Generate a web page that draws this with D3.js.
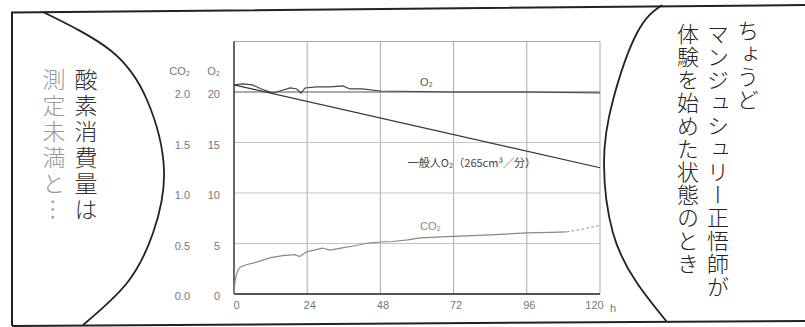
<!DOCTYPE html>
<html>
<head>
<meta charset="utf-8">
<script src="https://cdn.jsdelivr.net/npm/d3@7"></script>
<style>
  body { margin: 0; background: #fff; }
  text { font-family: "Liberation Sans", Arial, sans-serif; }
  .jp { font-family: "Noto Sans CJK JP", sans-serif; writing-mode: vertical-rl; font-weight: 300; }
</style>
</head>
<body>
<script>
// tick labels
var hourTicks = [0, 24, 48, 72, 96, 120];
var o2Ticks = [0, 5, 10, 15, 20];
var co2Ticks = [0, 0.5, 1.0, 1.5, 2.0];

var o2Hours  = [0, 3, 6, 9, 12.8, 15, 18.4, 20.6, 22, 23.3, 27, 31.5, 35.7, 38, 42, 48, 60, 72, 84, 96, 108, 120];
var o2Values = [20.7, 20.8, 20.7, 20.3, 19.9, 20.1, 20.4, 20.3, 19.9, 20.4, 20.5, 20.5, 20.6, 20.3, 20.3, 20.1, 20.05, 20.0, 20.0, 20.0, 19.95, 19.9];

// measured CO2 (%)
var co2Hours  = [0, 0.3, 0.7, 1.2, 2, 4, 8, 12, 16, 20, 21.5, 24, 27, 29, 31.5, 36, 40, 44, 48, 52, 57, 61, 68, 76, 84, 96, 104, 109, 114, 120];
var co2Values = [0.0, 0.12, 0.18, 0.23, 0.265, 0.29, 0.32, 0.36, 0.38, 0.39, 0.37, 0.42, 0.44, 0.455, 0.435, 0.46, 0.48, 0.505, 0.515, 0.52, 0.535, 0.555, 0.565, 0.575, 0.585, 0.605, 0.61, 0.615, 0.64, 0.68];

// ordinary person O2 (265cm3/min)
var refHours  = [0, 120];
var refValues = [20.7, 12.5];

var leftText  = ["酸素消費量は", "測定未満と…"];
var rightText = ["ちょうど", "マンジュシュリー正悟師が", "体験を始めた状態のとき"];

var W = 805, H = 327;
var svg = d3.select("body").append("svg").attr("width", W).attr("height", H);

// panel frame
svg.append("path")
  .attr("d", d3.line()([[12, 326], [12, 12.5], [805, 5]]))
  .attr("fill", "none").attr("stroke", "#222").attr("stroke-width", 2);
svg.append("path")
  .attr("d", d3.line()([[12, 326], [805, 321]]))
  .attr("fill", "none").attr("stroke", "#222").attr("stroke-width", 2);

var x = d3.scaleLinear().domain([0, 120]).range([234, 600]);
var yO2 = d3.scaleLinear().domain([0, 25]).range([294, 41.5]);
var yCO2 = d3.scaleLinear().domain([0, 2.5]).range([294, 41.5]);

var g = svg.append("g");

// grid
g.selectAll(".vg").data(hourTicks.slice(1, -1)).enter().append("line")
  .attr("x1", d => x(d)).attr("x2", d => x(d))
  .attr("y1", yO2(25)).attr("y2", yO2(0))
  .attr("stroke", "#aaa").attr("stroke-width", 1);
g.selectAll(".hg").data(o2Ticks.slice(1)).enter().append("line")
  .attr("x1", x(0)).attr("x2", x(120))
  .attr("y1", d => yO2(d)).attr("y2", d => yO2(d))
  .attr("stroke", d => d === 20 ? "#555" : "#c4c4c4").attr("stroke-width", 1);

// plot border
g.append("path")
  .attr("d", d3.line()([[x(0), yO2(25)], [x(120), yO2(25)], [x(120), yO2(0)]]))
  .attr("fill", "none").attr("stroke", "#aaa");
g.append("line").attr("x1", x(0)).attr("x2", x(0)).attr("y1", yO2(25)).attr("y2", yO2(0))
  .attr("stroke", "#333").attr("stroke-width", 1.5);
g.append("line").attr("x1", x(0)).attr("x2", x(120)).attr("y1", yO2(0)).attr("y2", yO2(0))
  .attr("stroke", "#555").attr("stroke-width", 2);

// axes (labels only)
var axO2 = g.append("g").attr("transform", "translate(220,2)")
  .call(d3.axisLeft(yO2).tickValues(o2Ticks).tickSize(0).tickPadding(0));
var axCO2 = g.append("g").attr("transform", "translate(190,2)")
  .call(d3.axisLeft(yCO2).tickValues(co2Ticks).tickSize(0).tickPadding(0).tickFormat(d3.format(".1f")));
var axX = g.append("g").attr("transform", "translate(2," + yO2(0) + ")")
  .call(d3.axisBottom(x).tickValues(hourTicks).tickSize(0).tickPadding(7));
[axO2, axCO2, axX].forEach(function (a) {
  a.select(".domain").remove();
  a.selectAll("text").attr("fill", "#777").style("font-size", "11px")
    .style("font-family", "'Liberation Sans', Arial, sans-serif");
});
axX.selectAll("text").filter(d => d === 120).attr("dx", -8);
g.append("text").attr("x", 610).attr("y", yO2(0) + 18).text("h")
  .attr("fill", "#777").style("font-size", "11px");
g.append("text").attr("x", 190).attr("y", 75).attr("text-anchor", "end").text("CO₂")
  .attr("fill", "#777").style("font-size", "11px");
g.append("text").attr("x", 220).attr("y", 75).attr("text-anchor", "end").text("O₂")
  .attr("fill", "#777").style("font-size", "11px");

// lines
var lineO2 = d3.line().x(d => x(d[0])).y(d => yO2(d[1]));
var lineCO2 = d3.line().x(d => x(d[0])).y(d => yCO2(d[1]));

g.append("path").attr("d", lineO2(d3.zip(refHours, refValues)))
  .attr("fill", "none").attr("stroke", "#333").attr("stroke-width", 1.2);
g.append("path").attr("d", lineO2(d3.zip(o2Hours, o2Values)))
  .attr("fill", "none").attr("stroke", "#444").attr("stroke-width", 1.2);

var co2Pts = d3.zip(co2Hours, co2Values);
var split = co2Hours.indexOf(109);
g.append("path").attr("d", lineCO2(co2Pts.slice(0, split + 1)))
  .attr("fill", "none").attr("stroke", "#888").attr("stroke-width", 1.2);
g.append("path").attr("d", lineCO2(co2Pts.slice(split)))
  .attr("fill", "none").attr("stroke", "#999").attr("stroke-width", 1).attr("stroke-dasharray", "3,2");

// series labels
g.append("text").attr("x", x(61)).attr("y", yO2(20.6)).text("O₂")
  .attr("fill", "#555").style("font-size", "11px");
g.append("text").attr("x", x(57)).attr("y", yO2(12.6)).text("一般人O₂（265cm³／分）")
  .attr("fill", "#444").style("font-size", "11px")
  .style("font-family", "'Noto Sans CJK JP', sans-serif");
g.append("text").attr("x", x(61)).attr("y", yCO2(0.63)).text("CO₂")
  .attr("fill", "#888").style("font-size", "11px");

// speech bubbles
var curve = d3.line().curve(d3.curveNatural);
svg.append("path")
  .attr("d", curve([[43, 12], [110, 50], [147, 100], [164, 170], [153, 233], [127, 283], [83, 325]]))
  .attr("fill", "#fff").attr("stroke", "#222").attr("stroke-width", 1.8);
svg.append("path")
  .attr("d", curve([[662, 5], [637, 33], [613, 100], [604, 163], [613, 233], [637, 283], [667, 322]]))
  .attr("fill", "none").attr("stroke", "#222").attr("stroke-width", 1.8);

svg.selectAll(".lt").data(leftText).enter().append("text")
  .attr("class", "jp")
  .attr("x", (d, i) => 86 - i * 32).attr("y", 68)
  .attr("fill", (d, i) => i === 0 ? "#333" : "#999")
  .style("font-size", "23px").style("letter-spacing", "3px")
  .text(d => d);

svg.selectAll(".rt").data(rightText).enter().append("text")
  .attr("class", "jp")
  .attr("x", (d, i) => 748 - i * 30).attr("y", (d, i) => i === 0 ? 20 : 23)
  .attr("fill", "#222")
  .style("font-size", "22px").style("letter-spacing", "1px")
  .text(d => d);
</script>
</body>
</html>
